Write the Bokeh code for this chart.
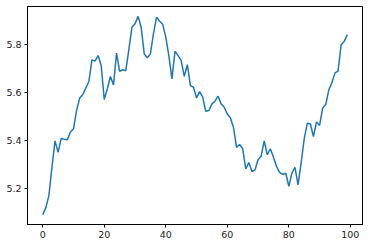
from bokeh.plotting import figure
from bokeh.models import Range1d, FixedTicker
from bokeh.embed import file_html
from bokeh.resources import INLINE

x_values = list(range(100))
y_values = [
    5.093, 5.121, 5.172, 5.290, 5.400, 5.352, 5.410, 5.407, 5.405, 5.436,
    5.450, 5.526, 5.578, 5.592, 5.620, 5.647, 5.737, 5.732, 5.755, 5.714,
    5.572, 5.617, 5.668, 5.633, 5.765, 5.689, 5.696, 5.692, 5.780, 5.873,
    5.887, 5.918, 5.873, 5.762, 5.746, 5.762, 5.846, 5.915, 5.898, 5.885,
    5.832, 5.755, 5.658, 5.773, 5.755, 5.735, 5.668, 5.717, 5.630, 5.623,
    5.579, 5.605, 5.582, 5.523, 5.526, 5.554, 5.565, 5.586, 5.554, 5.540,
    5.512, 5.496, 5.457, 5.373, 5.385, 5.367, 5.283, 5.310, 5.272, 5.279,
    5.321, 5.336, 5.400, 5.342, 5.367, 5.332, 5.294, 5.269, 5.260, 5.265,
    5.211, 5.265, 5.290, 5.217, 5.308, 5.408, 5.473, 5.470, 5.418, 5.479,
    5.464, 5.537, 5.551, 5.612, 5.642, 5.683, 5.690, 5.800, 5.814, 5.842,
]
x_ticks = [0, 20, 40, 60, 80, 100]
y_ticks = [5.2, 5.4, 5.6, 5.8]

xmin, xmax = min(x_values), max(x_values)
ymin, ymax = min(y_values), max(y_values)
xm = (xmax - xmin) * 0.05
ym = (ymax - ymin) * 0.05

p = figure(width=375, height=246, output_backend="svg", toolbar_location=None,
           x_range=Range1d(xmin - xm, xmax + xm), y_range=Range1d(ymin - ym, ymax + ym),
           min_border_left=27, min_border_right=13, min_border_top=6, min_border_bottom=22)
p.background_fill_color = "white"
p.border_fill_color = "white"
p.outline_line_color = "black"
p.outline_line_width = 1
p.grid.visible = False

p.line(x_values, y_values, line_color="#1f77b4", line_width=1.5)

for ax in (p.xaxis[0], p.yaxis[0]):
    ax.axis_line_color = "black"
    ax.major_tick_line_color = "black"
    ax.major_tick_in = 0
    ax.major_tick_out = 3
    ax.minor_tick_line_color = None
    ax.major_label_text_font = "DejaVu Sans"
    ax.major_label_text_font_size = "9.5px"
    ax.major_label_text_color = "#222222"
    ax.major_label_standoff = 3
p.xaxis[0].ticker = FixedTicker(ticks=x_ticks)
p.yaxis[0].ticker = FixedTicker(ticks=y_ticks)

open("out.html", "w").write(file_html(p, INLINE))
